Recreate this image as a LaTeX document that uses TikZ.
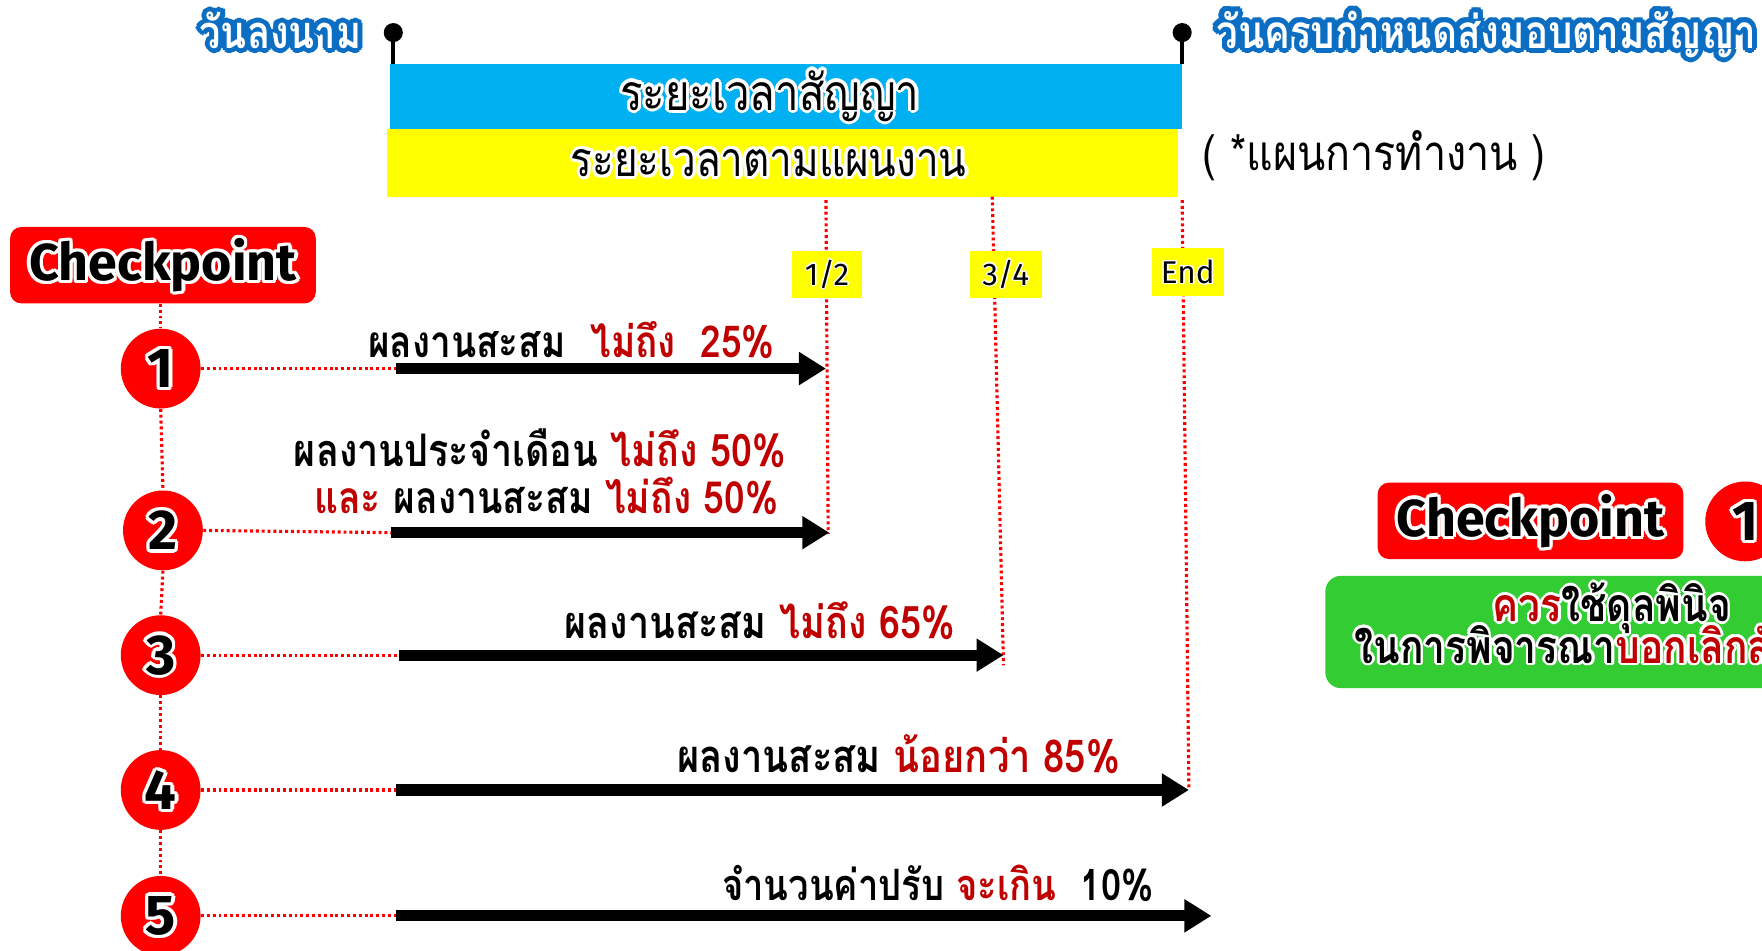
\documentclass[tikz,border=0pt]{standalone}
\usepackage{fontspec}
\usepackage{graphicx}
\usetikzlibrary{arrows.meta}
\newfontfamily\thai[Script=Thai, FakeStretch=0.84]{Loma}
\newfontfamily\lat{Fira Sans}
\definecolor{barblue}{HTML}{00B0F0}
\definecolor{baryel}{HTML}{FFFF00}
\definecolor{ckred}{HTML}{FF0000}
\definecolor{txtred}{HTML}{C00000}
\definecolor{haloblue}{HTML}{0B6EC3}
\definecolor{boxgreen}{HTML}{33CC33}
\newdimen\hx \newdimen\hy
\newlength\gwid
\newcommand\halo[3]{%
  \leavevmode
  \foreach \ang in {0,30,...,330}{%
    \pgfmathsetlength{\hx}{#1*cos(\ang)}%
    \pgfmathsetlength{\hy}{#1*sin(\ang)}%
    \rlap{\kern\hx\raisebox{\hy}{\textcolor{#2}{#3}}}%
    \pgfmathsetlength{\hx}{0.5*#1*cos(\ang+15)}%
    \pgfmathsetlength{\hy}{0.5*#1*sin(\ang+15)}%
    \rlap{\kern\hx\raisebox{\hy}{\textcolor{#2}{#3}}}%
  }%
  #3}
\tikzset{
  barnode/.style={inner sep=0pt, outer sep=0pt},
  ckbox/.style={fill=ckred, rounded corners=5pt, minimum width=136pt, minimum height=34pt, inner sep=0pt},
  ckcirc/.style={circle, fill=ckred, minimum size=35.5pt, inner sep=0pt},
  markbox/.style={fill=baryel, minimum width=31pt, minimum height=21pt, inner sep=0pt},
  guide/.style={ckred, line width=1.4pt, dash pattern=on 1.3pt off 1.3pt},
  bigarrow/.style={line width=5pt, -{Triangle[length=12pt,width=14pt]}},
  lbl/.style={inner sep=0pt, anchor=base east, font=\thai\bfseries},
  pinhead/.style={circle, fill=black, minimum size=8.5pt, inner sep=0pt},
}
\begin{document}
\settowidth\gwid{\thai\bfseries\fontsize{20}{24}\selectfont ควรใช้ดุลพินิจ}%
\pgfmathsetmacro\gscale{106/\gwid}%
\begin{tikzpicture}[x=0.5pt,y=-0.5pt]
\clip (0,0) rectangle (1568,846);
\fill[white] (0,0) rectangle (1568,846);

% bars
\node[barnode, fill=barblue, minimum width=352.5pt, minimum height=29pt] (cbar) at (699.5,86) {};
\node[barnode, fill=baryel, minimum width=352pt, minimum height=30pt] (pbar) at (696,145) {};
\node[inner sep=0pt, anchor=base] (ctext) at (685,98)
  {\resizebox{133pt}{!}{\thai\fontsize{20}{24}\selectfont\halo{1.3pt}{white}{ระยะเวลาสัญญา}}};
\node[inner sep=0pt, anchor=base] (ptext) at (684,157)
  {\resizebox{176pt}{!}{\thai\fontsize{20}{24}\selectfont\halo{1.3pt}{white}{ระยะเวลาตามแผนงาน}}};
\node[inner sep=0pt, anchor=base west] (plan) at (1070,152)
  {\resizebox{152.5pt}{!}{\thai\fontsize{20}{24}\selectfont ( *แผนการทำงาน )}};

% pins
\node[pinhead] (hL) at (350,29) {};
\node[pinhead] (hR) at (1052,29) {};
\draw[line width=1.8pt] (hL.center) -- (hL |- cbar.north);
\draw[line width=1.8pt] (hR.center) -- (hR |- cbar.north);

% date labels
\node[inner sep=0pt, anchor=base east, text=white] (sign) at (322,43)
  {\resizebox{72pt}{!}{\thai\bfseries\fontsize{20}{24}\selectfont\halo{2.2pt}{haloblue}{วันลงนาม}}};
\node[inner sep=0pt, anchor=base west, text=white] (due) at (1082,43)
  {\resizebox{240pt}{!}{\thai\bfseries\fontsize{20}{24}\selectfont\halo{2.2pt}{haloblue}{วันครบกำหนดส่งมอบตามสัญญา}}};

% guide lines
\coordinate (g1t) at (735,178); \coordinate (g1b) at (737,475);
\coordinate (g2t) at (883,175); \coordinate (g2b) at (893,592);
\coordinate (g3t) at (1052,178); \coordinate (g3b) at (1058,703);
\draw[guide] (g1t) -- (g1b);
\draw[guide] (g2t) -- (g2b);
\draw[guide] (g3t) -- (g3b);

% marks
\node[markbox] (m12) at (736,244) {\lat\fontsize{14}{16}\selectfont\halo{0.6pt}{white}{1/2}};
\node[markbox, minimum width=32pt] (m34) at (895,244) {\lat\fontsize{14}{16}\selectfont\halo{0.6pt}{white}{3/4}};
\node[markbox, minimum width=32pt] (mend) at (1057,242) {\lat\fontsize{14}{16}\selectfont\halo{0.6pt}{white}{End}};

% checkpoints
\node[ckbox] (ckL) at (145,236)
  {\resizebox{119pt}{!}{\lat\bfseries\fontsize{23}{26}\selectfont\halo{1.5pt}{white}{Checkpoint}}};
\node[ckcirc] (c1) at (143,328) {\lat\bfseries\fontsize{25}{28}\selectfont\halo{1.5pt}{white}{1}};
\node[ckcirc] (c2) at (145,472) {\lat\bfseries\fontsize{25}{28}\selectfont\halo{1.5pt}{white}{2}};
\node[ckcirc] (c3) at (143,583) {\lat\bfseries\fontsize{25}{28}\selectfont\halo{1.5pt}{white}{3}};
\node[ckcirc] (c4) at (143,703) {\lat\bfseries\fontsize{25}{28}\selectfont\halo{1.5pt}{white}{4}};
\node[ckcirc] (c5) at (143,815) {\lat\bfseries\fontsize{25}{28}\selectfont\halo{1.5pt}{white}{5}};
\draw[guide] (ckL.south -| c1) -- (c1.north);
\draw[guide] (c1.south) -- (c2.north);
\draw[guide] (c2.south) -- (c3.north);
\draw[guide] (c3.south) -- (c4.north);
\draw[guide] (c4.south) -- (c5.north);

% arrows
\coordinate (a1s) at (352,328); \coordinate (a1e) at (735,328);
\coordinate (a2s) at (348,474); \coordinate (a2e) at (738,474);
\coordinate (a3s) at (355,583); \coordinate (a3e) at (893,583);
\coordinate (a4s) at (352,703); \coordinate (a4e) at (1058,703);
\coordinate (a5s) at (352,815); \coordinate (a5e) at (1078,815);
\draw[guide] (c1.east) -- (a1s);
\draw[guide] (c2.east) -- (a2s);
\draw[guide] (c3.east) -- (a3s);
\draw[guide] (c4.east) -- (a4s);
\draw[guide] (c5.east) -- (a5s);
\draw[bigarrow] (a1s) -- (a1e);
\draw[bigarrow] (a2s) -- (a2e);
\draw[bigarrow] (a3s) -- (a3e);
\draw[bigarrow] (a4s) -- (a4e);
\draw[bigarrow] (a5s) -- (a5e);

% labels
\node[lbl] (l1) at (690,318) {\resizebox{181pt}{!}{\fontsize{20}{24}\selectfont ผลงานสะสม\ \ \textcolor{txtred}{ไม่ถึง\ \ 25\%}}};
\node[lbl] (l2a) at (700,415) {\resizebox{219pt}{!}{\fontsize{20}{24}\selectfont ผลงานประจำเดือน \textcolor{txtred}{ไม่ถึง 50\%}}};
\node[lbl] (l2b) at (693,457) {\resizebox{206.5pt}{!}{\fontsize{20}{24}\selectfont \textcolor{txtred}{และ} ผลงานสะสม \textcolor{txtred}{ไม่ถึง 50\%}}};
\node[lbl] (l3) at (850,568) {\resizebox{173.5pt}{!}{\fontsize{20}{24}\selectfont ผลงานสะสม \textcolor{txtred}{ไม่ถึง 65\%}}};
\node[lbl] (l4) at (997,687) {\resizebox{197pt}{!}{\fontsize{20}{24}\selectfont ผลงานสะสม \textcolor{txtred}{น้อยกว่า 85\%}}};
\node[lbl] (l5) at (1027,801) {\resizebox{192pt}{!}{\fontsize{20}{24}\selectfont จำนวนค่าปรับ \textcolor{txtred}{จะเกิน}\ \ 10\%}};

% right legend
\node[ckbox] (ckR) at (1362,463.5)
  {\resizebox{119pt}{!}{\lat\bfseries\fontsize{23}{26}\selectfont\halo{1.5pt}{white}{Checkpoint}}};
\node[ckcirc] (cR) at (1553,464) {\lat\bfseries\fontsize{25}{28}\selectfont\halo{1.5pt}{white}{1}};
\node[fill=boxgreen, rounded corners=7pt, minimum width=285pt, minimum height=50pt, inner sep=0pt, anchor=north west] (gbox) at (1179,512) {};
\node[inner sep=0pt, anchor=base west] (g1) at (1328,553)
  {\scalebox{\gscale}{\thai\bfseries\fontsize{20}{24}\selectfont\textcolor{txtred}{\halo{1.2pt}{white}{ควร}}\halo{1.2pt}{white}{ใช้ดุลพินิจ}}};
\node[inner sep=0pt, anchor=base west] (g2) at (1205,590)
  {\scalebox{\gscale}{\thai\bfseries\fontsize{20}{24}\selectfont\halo{1.2pt}{white}{ในการพิจารณา}\textcolor{txtred}{\halo{1.2pt}{white}{บอกเลิกสัญญา}}}};
\end{tikzpicture}
\end{document}
